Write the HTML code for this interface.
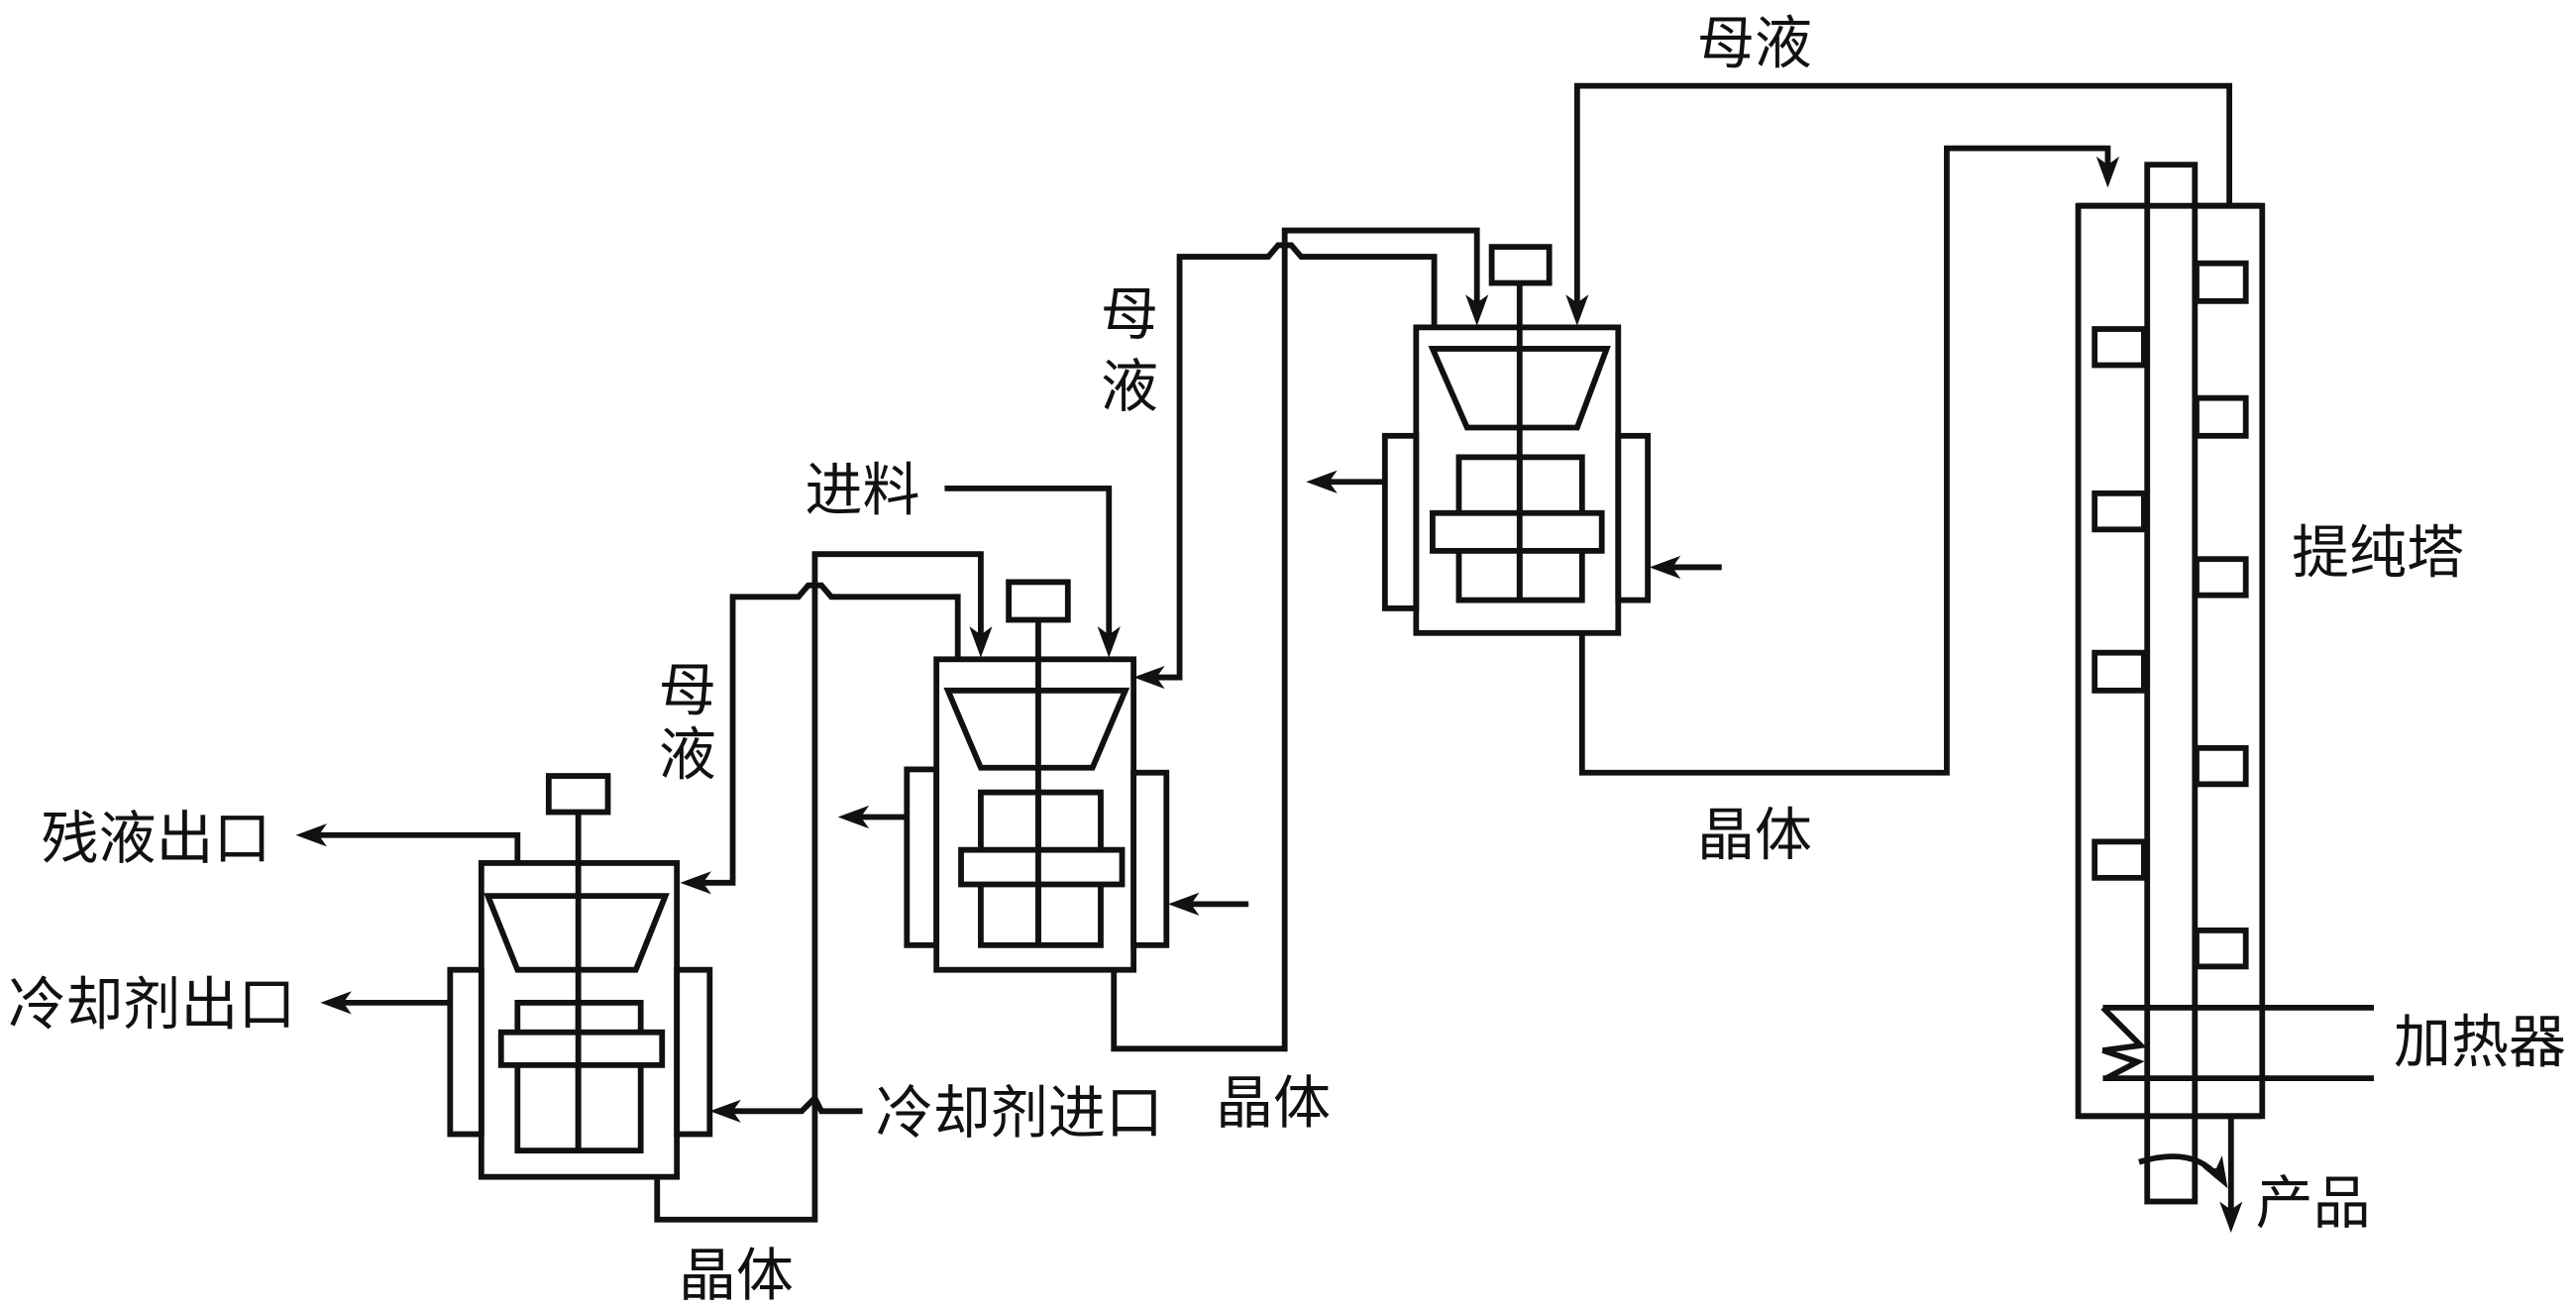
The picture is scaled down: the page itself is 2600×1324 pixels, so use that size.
<!DOCTYPE html>
<html><head><meta charset="utf-8"><style>
html,body{margin:0;padding:0;background:#fff;}
svg{display:block;}
text{font-family:"Liberation Sans","Noto Sans CJK SC",sans-serif;font-size:35px;fill:#111;}
</style></head><body>
<svg width="2600" height="1324" viewBox="0 0 1568 798" xmlns="http://www.w3.org/2000/svg">
<defs>
<path id="ar" d="M0,0 L-19,-7 L-14,0 L-19,7 Z" fill="#111"/>
</defs>
<g fill="none" stroke="#111" stroke-width="3.5">
<!-- Vessel 1 -->
<rect x="293" y="525" width="119" height="191"/>
<rect x="334" y="472" width="36" height="22"/>
<line x1="352" y1="494" x2="352" y2="700"/>
<polygon points="297,545 405,545 387,590 315,590"/>
<rect x="315" y="610" width="75" height="90"/>
<rect x="305" y="628" width="98" height="20" fill="#fff"/>
<line x1="352" y1="610" x2="352" y2="700"/>
<rect x="274" y="590" width="19" height="100"/>
<rect x="412" y="590" width="20" height="100"/>
<!-- Vessel 2 -->
<rect x="570" y="401" width="120" height="189"/>
<rect x="614" y="354" width="36" height="23"/>
<line x1="632" y1="377" x2="632" y2="575"/>
<polygon points="577,420 685,420 665,467 597,467"/>
<rect x="597" y="482" width="73" height="93"/>
<rect x="585" y="517" width="98" height="21" fill="#fff"/>
<line x1="632" y1="482" x2="632" y2="575"/>
<rect x="552" y="468" width="18" height="107"/>
<rect x="690" y="470" width="20" height="105"/>
<!-- Vessel 3 -->
<rect x="862" y="199" width="123" height="186"/>
<rect x="908" y="150" width="35" height="22"/>
<line x1="925" y1="172" x2="925" y2="365"/>
<polygon points="872,212 978,212 960,260 893,260"/>
<rect x="888" y="278" width="75" height="87"/>
<rect x="872" y="312" width="103" height="23" fill="#fff"/>
<line x1="925" y1="278" x2="925" y2="365"/>
<rect x="843" y="265" width="19" height="105"/>
<rect x="985" y="265" width="18" height="100"/>
<!-- Column -->
<rect x="1265" y="125" width="112" height="554"/>
<rect x="1307" y="100" width="29" height="631" fill="#fff"/>
<line x1="1265" y1="125" x2="1377" y2="125"/>
<line x1="1265" y1="679" x2="1377" y2="679"/>
<rect x="1275" y="200" width="30" height="22"/>
<rect x="1275" y="300" width="30" height="22"/>
<rect x="1275" y="397" width="30" height="23"/>
<rect x="1275" y="512" width="30" height="22"/>
<rect x="1337" y="160" width="30" height="23"/>
<rect x="1337" y="242" width="30" height="23"/>
<rect x="1337" y="340" width="30" height="22"/>
<rect x="1337" y="455" width="30" height="22"/>
<rect x="1337" y="566" width="30" height="22"/>
<line x1="1280" y1="613" x2="1445" y2="613"/>
<line x1="1280" y1="656" x2="1445" y2="656"/>
<polyline points="1280,613 1303,636 1280,639 1301,646 1282,656"/>
<line x1="1358" y1="679" x2="1358" y2="738"/>
<path d="M1302,707 Q1335,697 1350,716"/>
<!-- Vessel 1 lines -->
<polyline points="315,525 315,508 190,508"/>
<line x1="274" y1="610" x2="205" y2="610"/>
<polyline points="525,676 500,676 496,668 488,676 440,676"/>
<polyline points="400,716 400,742 496,742 496,337 597,337 597,390"/>
<polyline points="583,401 583,363 506,363 500,356 492,356 486,363 446,363 446,537 422,537"/>
<!-- Vessel 2 lines -->
<polyline points="575,297 675,297 675,390"/>
<line x1="552" y1="497" x2="520" y2="497"/>
<line x1="760" y1="550" x2="720" y2="550"/>
<polyline points="678,590 678,638 782,638 782,140 899,140 899,190"/>
<polyline points="873,199 873,156 792,156 786,149 778,149 772,156 718,156 718,412 698,412"/>
<!-- Vessel 3 lines -->
<line x1="843" y1="293" x2="805" y2="293"/>
<line x1="1048" y1="345" x2="1012" y2="345"/>
<polyline points="963,385 963,470 1185,470 1185,90 1283,90 1283,105"/>
<polyline points="1357,125 1357,52 960,52 960,190"/>
</g>
<!-- arrowheads -->
<use href="#ar" transform="translate(180,508) rotate(180)"/>
<use href="#ar" transform="translate(195,610) rotate(180)"/>
<use href="#ar" transform="translate(432,676) rotate(180)"/>
<use href="#ar" transform="translate(414,537) rotate(180)"/>
<use href="#ar" transform="translate(597,400) rotate(90)"/>
<use href="#ar" transform="translate(675,400) rotate(90)"/>
<use href="#ar" transform="translate(510,497) rotate(180)"/>
<use href="#ar" transform="translate(711,550) rotate(180)"/>
<use href="#ar" transform="translate(690,412) rotate(180)"/>
<use href="#ar" transform="translate(899,198) rotate(90)"/>
<use href="#ar" transform="translate(960,198) rotate(90)"/>
<use href="#ar" transform="translate(795,293) rotate(180)"/>
<use href="#ar" transform="translate(1004,345) rotate(180)"/>
<use href="#ar" transform="translate(1283,114) rotate(90)"/>
<use href="#ar" transform="translate(1358,750) rotate(90)"/>
<use href="#ar" transform="translate(1356,723) rotate(60)"/>
<text x="25" y="522">残液出口</text>
<text x="5" y="623">冷却剂出口</text>
<text x="533" y="689">冷却剂进口</text>
<text x="413" y="788">晶体</text>
<text x="740" y="683">晶体</text>
<text x="1033" y="520">晶体</text>
<text x="1033" y="38">母液</text>
<text x="490" y="310">进料</text>
<text x="670" y="203">母</text>
<text x="670" y="247">液</text>
<text x="401" y="432">母</text>
<text x="401" y="471">液</text>
<text x="1395" y="348">提纯塔</text>
<text x="1457" y="646">加热器</text>
<text x="1373" y="744">产品</text>
</svg>
</body></html>
